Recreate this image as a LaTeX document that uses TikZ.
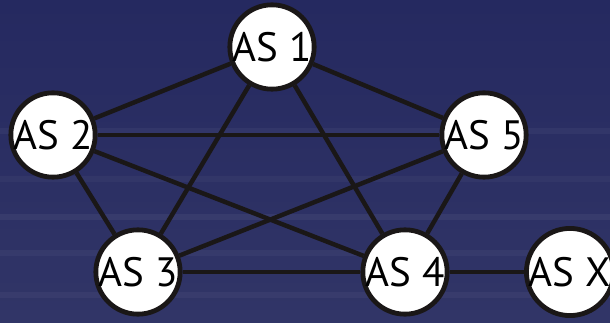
\documentclass[tikz,border=0pt]{standalone}
\usepackage{fontspec}
\setmainfont{PT Sans}
\usepackage{tikz}
\usetikzlibrary{backgrounds}
\definecolor{navy}{HTML}{252960}
\definecolor{navylight}{HTML}{313567}
\definecolor{edgeblack}{HTML}{1A1717}
\tikzset{
  asnode/.style={circle, draw=edgeblack, line width=4.8pt, fill=white, minimum size=76pt, inner sep=0pt, font=\fontsize{41}{41}\selectfont},
  link/.style={draw=edgeblack, line width=4.5pt},
}

\begin{document}
\begin{tikzpicture}[x=1pt, y=-1pt]
  \useasboundingbox (0,0) rectangle (610,323);
  % autonomous systems
  \node[asnode] (as1) at (272,47) {AS 1};
  \node[asnode] (as2) at (53,135) {AS 2};
  \node[asnode] (as5) at (484,135) {AS 5};
  \node[asnode] (as3) at (138,272) {AS 3};
  \node[asnode] (as4) at (405,272) {AS 4};
  \node[asnode] (asx) at (570,272) {AS X};
  \begin{scope}[on background layer]
    % backdrop
    \fill[top color=navy, bottom color=navylight] (0,0) rectangle (610,323);
    \foreach \y/\o in {128/.04, 176/.03, 214/.05, 250/.04, 292/.04}{
      \fill[white, opacity=\o] (0,\y) rectangle (610,\y+6);
    }
    % full mesh between AS 1..5
    \foreach \a/\b in {1/2,1/3,1/4,1/5,2/3,2/4,2/5,3/4,3/5,4/5}{
      \draw[link] (as\a) -- (as\b);
    }
    \draw[link] (as4) -- (asx);
  \end{scope}
\end{tikzpicture}
\end{document}
